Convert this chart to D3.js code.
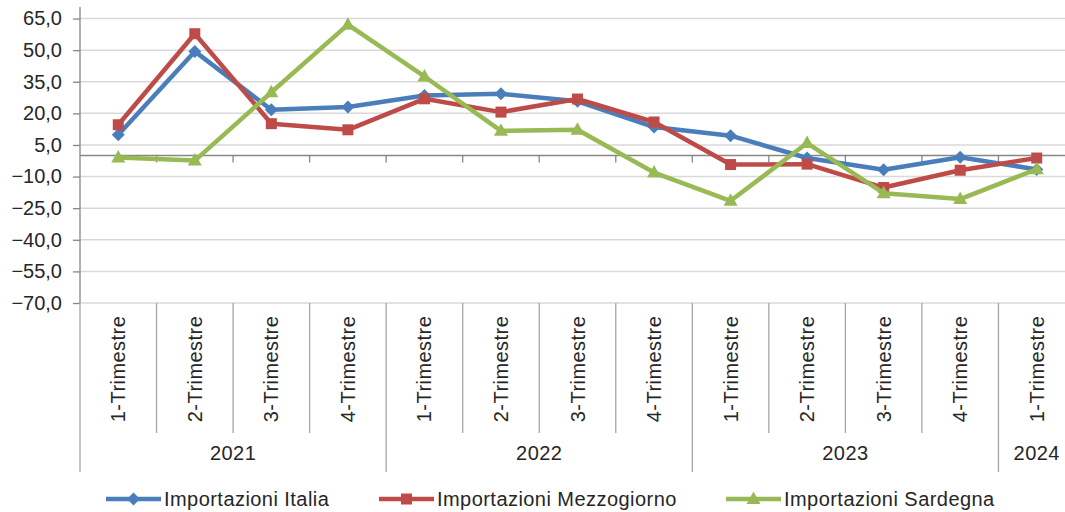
<!DOCTYPE html>
<html>
<head>
<meta charset="utf-8">
<script src="https://cdn.jsdelivr.net/npm/d3@7"></script>
<style>
  html, body { margin: 0; padding: 0; background: #fff; }
  svg { display: block; font-family: "Liberation Sans", Arial, sans-serif; }
</style>
</head>
<body>
<div id="chart"></div>
<script>
// categories
const quarters = ['1-Trimestre', '2-Trimestre', '3-Trimestre', '4-Trimestre',
  '1-Trimestre', '2-Trimestre', '3-Trimestre', '4-Trimestre',
  '1-Trimestre', '2-Trimestre', '3-Trimestre', '4-Trimestre',
  '1-Trimestre'];
const yearOf = ['2021', '2021', '2021', '2021',
  '2022', '2022', '2022', '2022',
  '2023', '2023', '2023', '2023',
  '2024'];

// series values (var. %)
const italia = [9.8, 49.4, 21.7, 23.0, 28.5, 29.3, 25.7, 13.5, 9.4, -1.2, -6.8, -0.8, -6.6];
const mezzogiorno = [14.6, 57.8, 15.1, 12.2, 26.9, 20.6, 26.8, 15.9, -4.3, -4.1, -15.2, -7.0, -1.2];
const sardegna = [-0.9, -2.4, 30.0, 62.1, 37.5, 11.7, 12.2, -8.1, -21.5, 5.9, -17.9, -20.7, -6.5];

const seriesNames = ['Importazioni Italia', 'Importazioni Mezzogiorno', 'Importazioni Sardegna'];
const yTicks = [-70, -55, -40, -25, -10, 5, 20, 35, 50, 65];

const series = [
  { name: seriesNames[0], values: italia, color: '#4A7EBB', marker: 'diamond' },
  { name: seriesNames[1], values: mezzogiorno, color: '#BE4B48', marker: 'square' },
  { name: seriesNames[2], values: sardegna, color: '#98B954', marker: 'triangle' }
];

const width = 1065, height = 512;
const plot = { left: 80, right: 1075, top: 8, bottom: 303 };
const labelRowEnd = 433, yearRowEnd = 472;
const textColor = '#262626';
const fontSize = '20px';
const spacing = '0.45px';

const svg = d3.select('#chart').append('svg')
  .attr('width', width)
  .attr('height', height);

const x = d3.scaleBand()
  .domain(d3.range(quarters.length))
  .range([plot.left, plot.right])
  .padding(0);

const y = d3.scaleLinear()
  .domain([-70, 70])
  .range([plot.bottom, plot.top]);

const fmt = d3.formatLocale({ decimal: ',', thousands: '.', grouping: [3], currency: ['', '€'] }).format('.1f');

// gridlines
svg.append('g').selectAll('line').data(yTicks).enter().append('line')
  .attr('x1', plot.left).attr('x2', plot.right)
  .attr('y1', d => y(d)).attr('y2', d => y(d))
  .attr('stroke', '#d9d9d9').attr('stroke-width', 1.5);

// y axis
const yAxis = svg.append('g')
  .attr('transform', `translate(${plot.left},0)`)
  .call(d3.axisLeft(y).tickValues(yTicks).tickFormat(fmt).tickSize(7).tickSizeOuter(0).tickPadding(11));
yAxis.select('.domain').attr('stroke', '#868686').attr('stroke-width', 1.3)
  .attr('d', `M0,${y(70) - 1}V${plot.bottom}`);
yAxis.selectAll('.tick line').attr('stroke', '#868686').attr('stroke-width', 1.3);
yAxis.selectAll('.tick text').attr('fill', textColor).style('font-size', fontSize);

// zero axis with ticks at category boundaries
const zeroAxis = svg.append('g').attr('transform', `translate(0,${y(0)})`);
zeroAxis.append('line')
  .attr('x1', plot.left).attr('x2', plot.right)
  .attr('stroke', '#868686').attr('stroke-width', 1.3);
zeroAxis.selectAll('.tk').data(d3.range(1, quarters.length + 1)).enter().append('line')
  .attr('x1', d => plot.left + d * x.step()).attr('x2', d => plot.left + d * x.step())
  .attr('y1', 0).attr('y2', 7)
  .attr('stroke', '#868686').attr('stroke-width', 1.3);

// category label separators
const bounds = d3.range(0, quarters.length + 1);
svg.append('g').selectAll('line').data(bounds).enter().append('line')
  .attr('x1', d => plot.left + d * x.step()).attr('x2', d => plot.left + d * x.step())
  .attr('y1', plot.bottom)
  .attr('y2', d => (d === 0 || d === quarters.length || yearOf[d] !== yearOf[d - 1]) ? yearRowEnd : labelRowEnd)
  .attr('stroke', '#a6a6a6').attr('stroke-width', 1.3);

// quarter labels
const midRow = (plot.bottom + labelRowEnd) / 2;
svg.append('g').selectAll('text').data(quarters).enter().append('text')
  .attr('transform', (d, i) => `translate(${x(i) + x.bandwidth() / 2 + 7},${midRow + 1}) rotate(-90)`)
  .attr('text-anchor', 'middle')
  .attr('fill', textColor)
  .style('font-size', fontSize)
  .style('letter-spacing', spacing)
  .text(d => d);

// year labels
const years = Array.from(new Set(yearOf));
svg.append('g').selectAll('text').data(years).enter().append('text')
  .attr('x', yr => {
    const idx = yearOf.map((v, i) => v === yr ? i : -1).filter(i => i >= 0);
    return (x(idx[0]) + x(idx[idx.length - 1]) + x.bandwidth()) / 2;
  })
  .attr('y', (labelRowEnd + yearRowEnd) / 2 + 7)
  .attr('text-anchor', 'middle')
  .attr('fill', textColor)
  .style('font-size', fontSize)
  .style('letter-spacing', spacing)
  .text(d => d);

function markerPath(type) {
  if (type === 'diamond') return 'M0,-6.5L6.5,0L0,6.5L-6.5,0Z';
  if (type === 'square') return 'M-5.5,-5.5H5.5V5.5H-5.5Z';
  return 'M0,-7.5L7,5L-7,5Z';
}

const line = d3.line()
  .x((d, i) => x(i) + x.bandwidth() / 2)
  .y(d => y(d));

series.forEach(s => {
  const g = svg.append('g');
  g.append('path')
    .datum(s.values)
    .attr('fill', 'none')
    .attr('stroke', s.color)
    .attr('stroke-width', 4.5)
    .attr('stroke-linejoin', 'round')
    .attr('d', line);
  g.selectAll('path.m').data(s.values).enter().append('path')
    .attr('class', 'm')
    .attr('transform', (d, i) => `translate(${x(i) + x.bandwidth() / 2},${y(d)})`)
    .attr('d', markerPath(s.marker))
    .attr('fill', s.color);
});

// legend
const legendX = [106, 379, 726];
const legendY = 499;
const legend = svg.append('g').selectAll('g').data(series).enter().append('g')
  .attr('transform', (d, i) => `translate(${legendX[i]},${legendY})`);
legend.append('line')
  .attr('x1', 0).attr('x2', 55)
  .attr('stroke', d => d.color).attr('stroke-width', 4.5);
legend.append('path')
  .attr('transform', 'translate(27.5,0)')
  .attr('d', d => markerPath(d.marker))
  .attr('fill', d => d.color);
legend.append('text')
  .attr('x', 58).attr('y', 7)
  .attr('fill', textColor)
  .style('font-size', fontSize)
  .style('letter-spacing', spacing)
  .text(d => d.name);
</script>
</body>
</html>
